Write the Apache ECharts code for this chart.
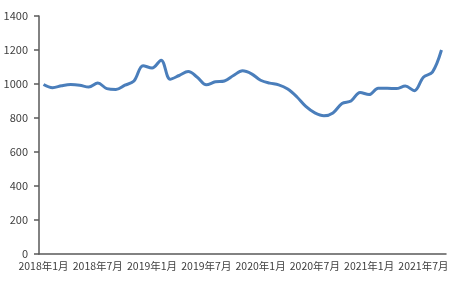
<!DOCTYPE html>
<html>
<head>
<meta charset="utf-8">
<script src="https://cdn.jsdelivr.net/npm/echarts@6/dist/echarts.min.js"></script>
<style>
  html, body { margin: 0; padding: 0; background: #fff; }
  #chart { width: 474px; height: 294px; }
</style>
</head>
<body>
<div id="chart"></div>
<script>
  // 2018年1月 .. 2021年9月, monthly
  const years = [2018, 2019, 2020, 2021];
  const months = [];
  years.forEach(y => {
    for (let m = 1; m <= 12; m++) {
      if (y === 2021 && m > 9) break;
      months.push(y + '年' + m + '月');
    }
  });

  const values = [
    997, 978, 990, 997, 993, 982, 1006, 973, 968, 993,
    1018, 1108, 1094, 1140, 1028, 1050, 1073, 1040, 995, 1013,
    1018, 1050, 1078, 1060, 1022, 1005, 995, 970, 925, 868,
    830, 813, 830, 885, 900, 950, 938, 975, 975, 973,
    988, 960, 1040, 1070, 1200
  ];

  const yTicks = [0, 200, 400, 600, 800, 1000, 1200, 1400];

  const axisColor = '#595959';
  const labelFont = {
    color: '#404040',
    fontSize: 10.5,
    fontFamily: '"Noto Sans CJK SC", "Liberation Sans", sans-serif'
  };

  const myChart = echarts.init(document.getElementById('chart'));
  myChart.setOption({
    animation: false,
    grid: {
      left: 39,
      right: 28,
      top: 16,
      bottom: 40,
      containLabel: false
    },
    xAxis: {
      type: 'category',
      data: months,
      boundaryGap: true,
      axisLine: { lineStyle: { color: axisColor, width: 1.5 } },
      axisTick: { interval: 5, length: 4, lineStyle: { color: axisColor, width: 1.5 } },
      axisLabel: Object.assign({ interval: 5, margin: 7 }, labelFont),
      splitLine: { show: false }
    },
    yAxis: {
      type: 'value',
      min: yTicks[0],
      max: yTicks[yTicks.length - 1],
      interval: 200,
      axisLine: { show: true, lineStyle: { color: axisColor, width: 1.5 } },
      axisTick: { show: true, length: 5, lineStyle: { color: axisColor, width: 1.5 } },
      axisLabel: Object.assign({ margin: 11, formatter: v => String(v), fontSize: 11 }, { color: labelFont.color, fontFamily: labelFont.fontFamily }),
      splitLine: { show: false }
    },
    series: [{
      type: 'line',
      data: values,
      smooth: 0.35,
      symbol: 'none',
      lineStyle: { color: '#4A7EBB', width: 3 }
    }]
  });
</script>
</body>
</html>
